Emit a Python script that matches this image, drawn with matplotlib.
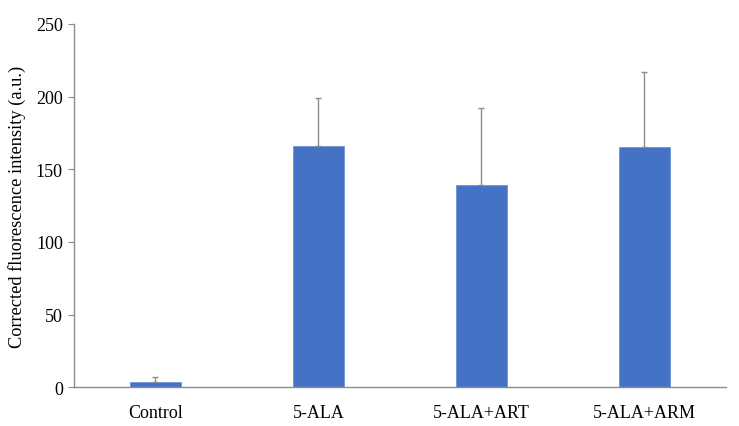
import matplotlib
matplotlib.use("Agg")
from matplotlib import pyplot as plt
import numpy as np

# valeurs
groups = ["Control", "5-ALA", "5-ALA+ART", "5-ALA+ARM"]
means = [3.4, 165.9, 139.0, 165.2]
errors = [3.5, 33.2, 53.0, 51.8]   # barres d'erreur (vers le haut seulement)

plt.rcParams['font.family'] = ['Liberation Serif', 'DejaVu Serif']

fig = plt.figure(figsize=(7.39, 4.27), dpi=100)
ax = fig.add_axes([0.1001, 0.0906, 0.8823, 0.8509])

x = np.arange(len(groups)) + 0.5
ax.bar(x, means, width=0.31, color="#4472C4", edgecolor="#6F93D6", linewidth=0.6, zorder=2)
ax.errorbar(x, means, yerr=[np.zeros(len(errors)), errors], fmt="none",
            ecolor="#8C8C8C", elinewidth=1.0, capsize=2.5, capthick=1.0, zorder=3)

ax.set_xlim(0, len(groups))
ax.set_ylim(0, 250)
ax.set_yticks(np.arange(0, 251, 50))
ax.set_xticks(x)
ax.set_xticklabels(groups)
ax.set_ylabel("Corrected fluorescence intensity (a.u.)", fontsize=13.2, labelpad=7)

for s in ["top", "right"]:
    ax.spines[s].set_visible(False)
for s in ["left", "bottom"]:
    ax.spines[s].set_color("#8C8C8C")
    ax.spines[s].set_linewidth(1.0)

ax.tick_params(axis="y", length=4, color="#8C8C8C", labelsize=13, pad=4)
ax.tick_params(axis="x", length=0, labelsize=13, pad=12)

fig.savefig("out.png", dpi=100)
